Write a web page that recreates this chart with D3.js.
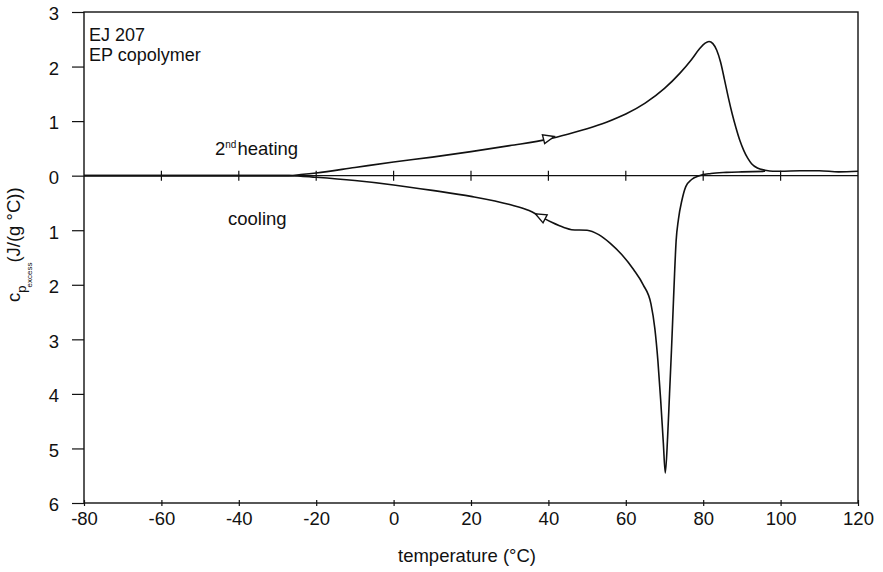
<!DOCTYPE html>
<html>
<head>
<meta charset="utf-8">
<script src="https://cdn.jsdelivr.net/npm/d3@7/dist/d3.min.js"></script>
<style>
  body { margin: 0; background: #fff; }
  svg text { font-family: "Liberation Sans", Arial, sans-serif; fill: #111; }
</style>
</head>
<body>
<svg id="chart" width="883" height="572"></svg>
<script>
// tick values
const xTicks = [-80, -60, -40, -20, 0, 20, 40, 60, 80, 100, 120];
const yTicks = [3, 2, 1, 0, -1, -2, -3, -4, -5, -6];

// 2nd heating curve (temperature, cp excess)
const heatT = [-80, -60, -40, -30, -27, -24, -20, -10, 0, 10, 20, 30, 40, 45, 50, 55, 60, 65, 70, 74, 77, 79, 80.5, 81.5, 82.5, 83.5, 84.5, 85.5, 86.5, 87.5, 88.5, 89.5, 90.5, 91.5, 92.5, 94, 96, 98, 100, 105, 110, 115, 120];
const heatV = [0, 0, 0, 0, 0, 0.02, 0.05, 0.15, 0.25, 0.34, 0.44, 0.55, 0.67, 0.76, 0.86, 0.98, 1.13, 1.33, 1.6, 1.88, 2.13, 2.32, 2.43, 2.46, 2.42, 2.3, 2.08, 1.76, 1.43, 1.13, 0.87, 0.64, 0.46, 0.32, 0.22, 0.14, 0.1, 0.08, 0.08, 0.09, 0.09, 0.07, 0.08];

// cooling curve
const coolT = [-80, -60, -40, -30, -27, -24, -20, -10, 0, 10, 20, 30, 35, 38, 41, 44, 46, 50, 53, 56, 59, 62, 64.5, 66.5, 67.5, 68.3, 69, 69.7, 70.2, 70.8, 71.3, 71.8, 72.2, 72.6, 73, 73.6, 74.5, 75.5, 77, 79, 82, 86, 90, 96];
const coolV = [0, 0, 0, 0, 0, -0.01, -0.03, -0.09, -0.17, -0.27, -0.38, -0.53, -0.64, -0.75, -0.86, -0.95, -0.99, -1.0, -1.08, -1.24, -1.45, -1.72, -2.0, -2.35, -2.8, -3.4, -4.1, -4.9, -5.45, -4.8, -4.0, -3.2, -2.5, -1.8, -1.2, -0.8, -0.45, -0.2, -0.07, 0, 0.04, 0.06, 0.07, 0.08];

// arrow positions: [temperature, value, direction]
const arrows = [[40, 0.69, 1], [38, -0.75, -1]];

const svg = d3.select("#chart");
const margin = {top: 12, right: 25, bottom: 69, left: 84};
const width = +svg.attr("width") - margin.left - margin.right;
const height = +svg.attr("height") - margin.top - margin.bottom;

const g = svg.append("g").attr("transform", "translate(" + margin.left + "," + margin.top + ")");

const x = d3.scaleLinear().domain([-80, 120]).range([0, width]);
const y = d3.scaleLinear().domain([3, -6]).range([0, height]);

// y axis, outward ticks, absolute labels
const yAxis = g.append("g")
  .call(d3.axisLeft(y).tickValues(yTicks).tickSize(12).tickPadding(13).tickFormat(d => Math.abs(d)));
yAxis.select(".domain").remove();
yAxis.selectAll("line").attr("stroke", "#111").attr("stroke-width", 1.2);
yAxis.selectAll("text").style("font-size", "18.5px").attr("dy", "0.42em");

// x axis at bottom, short ticks
const xAxis = g.append("g")
  .attr("transform", "translate(0," + height + ")")
  .call(d3.axisBottom(x).tickValues(xTicks).tickSize(3).tickPadding(6).tickFormat(d => String(d)));
xAxis.select(".domain").remove();
xAxis.selectAll("line").attr("stroke", "#111").attr("stroke-width", 1.2).attr("y1", -3);
xAxis.selectAll("text").style("font-size", "18.5px");

// frame
g.append("rect")
  .attr("x", 0).attr("y", 0).attr("width", width).attr("height", height)
  .attr("fill", "none").attr("stroke", "#111").attr("stroke-width", 1.4);

// zero line with crossing ticks
g.append("line")
  .attr("x1", 0).attr("x2", width).attr("y1", y(0)).attr("y2", y(0))
  .attr("stroke", "#111").attr("stroke-width", 1.4);
g.append("g").selectAll("line")
  .data(xTicks.slice(1, -1))
  .enter().append("line")
  .attr("x1", d => x(d)).attr("x2", d => x(d))
  .attr("y1", y(0) - 5).attr("y2", y(0) + 5)
  .attr("stroke", "#111").attr("stroke-width", 1.2);

// curves
const line = d3.line()
  .x(d => x(d[0]))
  .y(d => y(d[1]))
  .curve(d3.curveMonotoneX);

const heat = heatT.map((t, i) => [t, heatV[i]]);
const cool = coolT.map((t, i) => [t, coolV[i]]);

g.append("path").datum(heat).attr("d", line)
  .attr("fill", "none").attr("stroke", "#111").attr("stroke-width", 1.6);
g.append("path").datum(cool).attr("d", line)
  .attr("fill", "none").attr("stroke", "#111").attr("stroke-width", 1.6);

// open triangle arrows along the curves
arrows.forEach(a => {
  const series = a[1] > 0 ? heat : cool;
  const i = series.findIndex(p => p[0] > a[0]);
  const p0 = series[i - 1], p1 = series[i];
  let ang = Math.atan2(y(p1[1]) - y(p0[1]), x(p1[0]) - x(p0[0])) * 180 / Math.PI;
  if (a[2] < 0) ang += 180;
  g.append("path")
    .attr("d", "M6,0 L-5,-4.5 L-5,4.5 Z")
    .attr("transform", "translate(" + x(a[0]) + "," + y(a[1]) + ") rotate(" + ang + ")")
    .attr("fill", "#fff").attr("stroke", "#111").attr("stroke-width", 1.4);
});

// annotations
const note = svg.append("g").style("font-size", "18px");
note.append("text").attr("x", 89).attr("y", 41).text("EJ 207");
note.append("text").attr("x", 89).attr("y", 61).text("EP copolymer");

const heatLbl = note.append("text").attr("x", 215).attr("y", 155).style("font-size", "18.5px");
heatLbl.append("tspan").text("2");
heatLbl.append("tspan").attr("dy", -7).style("font-size", "10px").text("nd");
heatLbl.append("tspan").attr("dy", 7).attr("dx", 1).text("heating");

note.append("text").attr("x", 228).attr("y", 225).style("font-size", "18.5px").text("cooling");

// axis titles
svg.append("text")
  .attr("x", 467).attr("y", 562)
  .attr("text-anchor", "middle")
  .style("font-size", "18.5px")
  .text("temperature (°C)");

const yLbl = svg.append("text")
  .attr("transform", "translate(20,302) rotate(-90)")
  .style("font-size", "18.5px");
yLbl.append("tspan").text("c");
yLbl.append("tspan").attr("dy", 6).style("font-size", "13px").text("p");
yLbl.append("tspan").attr("dy", 6).attr("dx", -2).style("font-size", "8px").text("excess");
yLbl.append("tspan").attr("dy", -12).attr("dx", 0).text("(J/(g °C))");
</script>
</body>
</html>
